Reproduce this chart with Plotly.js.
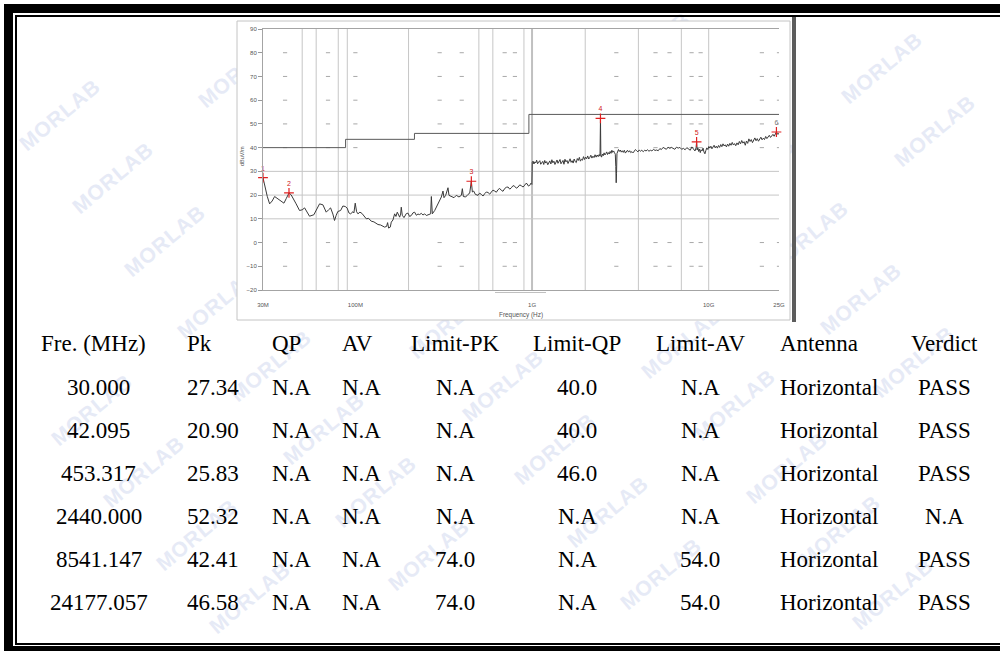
<!DOCTYPE html>
<html><head><meta charset="utf-8">
<script src="https://cdn.plot.ly/plotly-3.0.1.min.js"></script>
<style>
html,body{margin:0;padding:0;background:#fff;width:1000px;height:653px;overflow:hidden;}
#wm{position:absolute;left:0;top:0;width:1000px;height:653px;overflow:hidden;z-index:0;}
.w{position:absolute;font-family:'Liberation Sans',Arial,sans-serif;font-weight:bold;font-size:21px;color:#e6eaf6;transform:translate(-50%,-50%) rotate(-40deg);white-space:nowrap;letter-spacing:1px;}
#chart{position:absolute;left:0;top:0;width:1000px;height:653px;z-index:1;}
#frame1{position:absolute;left:4px;top:4px;width:1100px;height:633px;border-top:9px solid #000;border-left:9px solid #000;border-bottom:5px solid #000;z-index:2;pointer-events:none;}
#frame2{position:absolute;left:15px;top:15px;width:1100px;height:626px;border-top:2px solid #000;border-left:2px solid #000;border-bottom:2px solid #000;z-index:2;pointer-events:none;}
</style></head>
<body>
<div id="wm"></div>
<div id="chart"></div>
<div id="frame1"></div>
<div id="frame2"></div>
<script>
// ---------------- data ----------------
// measured trace, 30 MHz - 1 GHz
const lowFreq = [
30,30.6,31.7,32.7,33.8,34.9,36.1,37.2,39.4,40.6,42.095,43.3,44.7,46.2,48.3,50.0,51.6,53.4,55.0,58.2,
60.0,62.7,65.5,68.4,70.5,72.4,74.6,76.2,77.9,79.6,82.5,85.0,87.6,89.9,91.9,94.0,96.9,98.1,99.8,101.6,
103.4,106.1,108.9,111.8,115.3,118.8,123.0,127.4,131.3,134.2,138.9,143.2,146.4,150.2,152.2,154.2,157.6,159.7,163.2,166.8,
169.7,172.7,175.7,178.1,180.4,181.9,184.3,188.4,194.2,198.5,202.8,207.3,211.8,216.5,221.3,226.1,231.1,236.1,241.4,246.7,
252.1,260,266.8,269.2,272.7,281.2,287.3,293.6,300.0,306.6,313.3,317.4,324.4,334.4,338.8,349.3,361.6,372.7,385.9,398.0,
403.2,408.5,421.1,434.1,443.7,453.317,459.4,467.4,477.7,494.6,505,516.6,528,539.6,551,563.5,576,588.6,601,614.8,
628,642.1,656,670.7,685,700.6,716,731.6,748,764.1,781,798.1,815,833.6,852,870.7,890,909.4,923,937.4,
954,970.6,985,998
];
const lowDb = [
27.3,24.0,19.5,16.3,17.5,19.4,18.6,17.7,16.6,18.5,20.9,20.1,18.5,16.3,13.5,13.8,14.6,12.5,11.1,11.7,
13.5,16.3,15.9,12.8,13.8,14.6,12.0,9.3,11.5,13.1,13.5,15.4,15.2,14.5,12.5,12.1,13.0,12.5,16.6,13.0,
12.1,12.8,12.3,11.2,10.0,10.2,9.0,8.7,8.2,7.6,7.4,6.9,6.5,6.8,8.4,6.1,6.5,8.6,9.5,12.1,
11.0,12.8,11.2,10.7,12.0,14.9,11.5,10.5,12.2,12.4,11.0,11.4,12.5,12.8,11.5,12.0,11.8,12.3,11.6,12.1,
11.4,11.8,12.1,19.4,12.1,13.5,14.9,16.6,18.0,19.2,21.7,18.9,19.9,23.1,19.9,19.4,18.9,19.9,19.2,19.9,
22.7,19.4,19.2,20.3,20.8,25.83,21.3,21.7,20.3,19.9,20.8,20.3,19.6,20.6,21.3,21.1,20.4,21.3,22.1,21.7,
21.2,22.3,22.8,22.0,21.6,22.8,23.3,23.4,22.5,23.1,24.0,23.7,22.9,23.4,24.3,23.9,23.4,24.2,24.9,24.8,
23.8,24.1,25.0,24.5
];
// measured trace, 1 GHz - 25 GHz
const highFreq = [
1003,1014,1025,1038,1050,1062,1075,1090,1106,1120,
1135,1150,1165,1180,1195,1210,1228,1245,1260,1278,
1295,1312,1330,1348,1366,1385,1402,1420,1440,1458,
1477,1497,1516,1536,1556,1577,1598,1620,1642,1664,
1686,1709,1732,1756,1780,1804,1828,1853,1878,1904,
1930,1956,1983,2010,2038,2066,2094,2123,2152,2182,
2212,2243,2274,2305,2337,2369,2400,2425,2440,2452,
2475,2502,2530,2558,2587,2616,2645,2675,2705,2736,
2767,2799,2831,2863,2896,2930,2960,2980,2995,3008,
3025,3050,3085,3120,3160,3200,3240,3285,3330,3375,
3420,3470,3520,3570,3620,3675,3730,3790,3850,3910,
3975,4040,4110,4180,4260,4340,4420,4500,4590,4680,
4770,4870,4970,5070,5180,5290,5400,5520,5640,5760,
5890,6020,6150,6290,6430,6570,6720,6870,7030,7190,
7350,7520,7690,7860,8030,8200,8360,8480,8541.147,8600,
8680,8770,8870,8960,9060,9170,9290,9400,9520,9640,
9760,9890,10020,10150,10290,10430,10580,10730,10880,11040,
11200,11360,11530,11700,11870,12050,12230,12410,12600,12790,
12980,13180,13380,13590,13800,14010,14230,14450,14680,14910,
15140,15380,15620,15860,16110,16360,16620,16880,17150,17420,
17690,17970,18250,18540,18830,19130,19430,19740,20050,20370,
20690,21020,21350,21690,22030,22380,22740,23100,23470,23840,
24177.057,24600,25000
];
const highDb = [
33.9,34.3,33.1,34.0,33.6,34.7,33.2,33.9,34.5,33.0,
33.8,34.2,32.9,34.6,33.5,34.1,32.8,33.7,34.4,33.1,
34.9,33.6,34.3,32.9,33.8,34.8,33.4,34.1,35.0,33.2,
33.9,34.6,33.0,35.1,34.0,34.6,33.3,34.2,35.3,33.8,
34.5,33.5,35.2,34.1,33.7,35.4,34.6,35.9,34.3,35.1,
34.7,36.2,35.0,36.0,35.3,36.5,35.2,35.9,36.8,35.6,
36.4,35.8,37.0,36.0,36.9,36.2,37.1,36.4,52.32,36.9,
36.0,37.3,36.6,37.8,36.9,37.5,38.2,37.1,37.9,37.3,
38.4,37.6,38.9,38.0,38.6,37.9,37.2,32.0,25.2,29.0,
37.5,38.6,39.2,38.4,39.0,38.1,38.7,38.0,38.9,37.7,
38.4,38.9,38.1,38.7,37.9,38.3,37.8,38.6,39.2,38.7,
38.2,39.0,38.5,38.9,38.3,38.9,38.6,39.1,38.5,38.9,
38.6,39.3,38.8,39.0,38.7,39.6,39.2,40.1,39.8,39.3,
40.2,39.7,40.1,39.5,39.3,40.2,39.8,40.1,39.3,39.7,
39.1,40.0,39.4,38.9,40.3,39.6,38.6,39.9,42.41,39.0,
40.0,38.4,39.4,37.9,39.1,38.6,39.8,38.2,37.4,38.8,
39.9,39.2,40.5,39.8,40.6,39.5,40.3,41.0,39.9,40.6,
39.8,40.9,40.1,41.3,40.4,41.6,40.7,41.2,40.3,41.5,
40.6,41.8,41.0,42.2,41.1,41.7,40.8,42.0,41.2,42.6,
41.6,43.0,41.9,42.5,41.0,42.8,41.8,43.7,42.6,43.4,
42.1,43.3,44.1,42.9,43.8,42.7,43.5,44.4,43.3,44.0,
43.4,44.7,43.8,44.5,45.2,44.3,45.0,45.6,44.8,45.5,
46.58,45.6,46.0
];
const limitFreq = [30, 88, 88, 216, 216, 960, 960, 25000];
const limitDb = [40, 40, 43.5, 43.5, 46, 46, 54, 54];
const markerFreq = [30.000, 42.095, 453.317, 2440.000, 8541.147, 24177.057];
const markerPk = [27.34, 20.90, 25.83, 52.32, 42.41, 46.58];
const markerNo = ['1','2','3','4','5','6'];
const tickFreq = [30,40,50,60,70,80,90,100,200,300,400,500,600,700,800,900,1000,2000,3000,4000,5000,6000,7000,8000,9000,10000,20000,25000];
const labelFreq = [30,100,1000,10000,25000];
const labelText = ['30M','100M','1G','10G','25G'];
const gridFreq = [50,60,80,90,200,500,600,900,2000,4000,7000,10000];
const gridFreqBold = [1000];
const gridDb = [10,20,30];
const dotFreq = [40,70,100,300,400,700,800,3000,5000,6000,8000,9000,20000,25000];
const dotDb = [80,70,60,50,40,0,-10];
const yTicks = [90,80,70,60,50,40,30,20,10,0,-10,-20];

// table
const colHeaders = ['Fre. (MHz)','Pk','QP','AV','Limit-PK','Limit-QP','Limit-AV','Antenna','Verdict'];
const freCol = ['30.000','42.095','453.317','2440.000','8541.147','24177.057'];
const pkCol = ['27.34','20.90','25.83','52.32','42.41','46.58'];
const qpCol = ['N.A','N.A','N.A','N.A','N.A','N.A'];
const avCol = ['N.A','N.A','N.A','N.A','N.A','N.A'];
const limPkCol = ['N.A','N.A','N.A','N.A','74.0','74.0'];
const limQpCol = ['40.0','40.0','46.0','N.A','N.A','N.A'];
const limAvCol = ['N.A','N.A','N.A','N.A','54.0','54.0'];
const antCol = ['Horizontal','Horizontal','Horizontal','Horizontal','Horizontal','Horizontal'];
const verdictCol = ['PASS','PASS','PASS','N.A','PASS','PASS'];

// ---------------- layout helpers ----------------
const W = 1000, H = 653, L = 263, R = 221, T = 29, B = 363;
const PW = W - L - R, PH = H - T - B;
const xp = px => (px - L) / PW;
const yp = py => 1 - (py - T) / PH;

// watermarks (tiled along the text direction, only whole words kept)
const wm = document.getElementById('wm');
const ang = 40 * Math.PI / 180;
const ax = [165 * Math.cos(ang), -165 * Math.sin(ang)];
const bx = [82 * Math.sin(ang), 82 * Math.cos(ang)];
for (let i = -10; i <= 10; i++) {
  for (let j = -4; j <= 18; j++) {
    const cx = 60 + i * ax[0] + j * bx[0];
    const cy = 115 + i * ax[1] + j * bx[1];
    if (cx < 46 || cx > 954 || cy < 42 || cy > 608) continue;
    const d = document.createElement('div');
    d.className = 'w'; d.textContent = 'MORLAB';
    d.style.left = cx.toFixed(1) + 'px'; d.style.top = cy.toFixed(1) + 'px';
    wm.appendChild(d);
  }
}

// grid traces
function vLines(arr) { const x = [], y = []; arr.forEach(f => { x.push(f, f, null); y.push(-20, 90, null); }); return {x, y}; }
function hLines(arr) { const x = [], y = []; arr.forEach(g => { x.push(30, 25000, null); y.push(g, g, null); }); return {x, y}; }
const vg = vLines(gridFreq), vgb = vLines(gridFreqBold), hg = hLines(gridDb);
const dx = [], dy = [];
dotFreq.forEach(f => dotDb.forEach(g => { dx.push(f); dy.push(g); }));

const traces = [
  {x: vg.x, y: vg.y, mode: 'lines', line: {color: '#c6c6c6', width: 1}, hoverinfo: 'skip', showlegend: false},
  {x: vgb.x, y: vgb.y, mode: 'lines', line: {color: '#c0c0c0', width: 2}, hoverinfo: 'skip', showlegend: false},
  {x: hg.x, y: hg.y, mode: 'lines', line: {color: '#c6c6c6', width: 1}, hoverinfo: 'skip', showlegend: false},
  {x: dx, y: dy, mode: 'markers', marker: {symbol: 'line-ew', size: 3, line: {color: '#a8a8a8', width: 1}}, hoverinfo: 'skip', showlegend: false},
  {x: tickFreq, y: tickFreq.map(() => -23.4), mode: 'markers', cliponaxis: false, marker: {symbol: 'square', size: 1.5, color: '#8a8a8a'}, hoverinfo: 'skip', showlegend: false},
  {x: limitFreq, y: limitDb, mode: 'lines', line: {color: '#5a5a5a', width: 1}, showlegend: false},
  {x: lowFreq.concat(highFreq), y: lowDb.concat(highDb), mode: 'lines', line: {color: '#3a3a3a', width: 1}, showlegend: false},
  {x: markerFreq, y: markerPk, mode: 'markers+text', text: markerNo, textposition: 'top center', cliponaxis: false,
   textfont: {family: 'Liberation Sans, Arial', size: 7, color: ['#d02020','#d02020','#d02020','#d02020','#d02020','#777777']},
   marker: {symbol: 'cross-thin', size: 7, line: {color: '#e02020', width: 1.2}}, showlegend: false}
];

// annotations
const ann = [];
ann.push({xref: 'paper', yref: 'paper', x: xp(521), y: yp(315), text: 'Frequency (Hz)', showarrow: false,
  font: {family: 'Liberation Sans, Arial', size: 6.4, color: '#555'}, xanchor: 'center', yanchor: 'middle'});
ann.push({xref: 'paper', yref: 'paper', x: xp(242), y: yp(156), text: 'dBuV/m', textangle: -90, showarrow: false,
  font: {family: 'Liberation Sans, Arial', size: 5.5, color: '#555'}, xanchor: 'center', yanchor: 'middle'});

const colX = [98.5, 185, 270, 340, 455, 577, 700, 778, 944];
const colAnchor = ['center','left','left','left','center','center','center','left','center'];
const cols = [freCol, pkCol, qpCol, avCol, limPkCol, limQpCol, limAvCol, antCol, verdictCol];
const tfont = {family: 'Liberation Serif, Times New Roman, serif', size: 23, color: '#000'};
const headerY = 343, rowY0 = 387, rowDY = 43.1;
colHeaders.forEach((h, i) => {
  ann.push({xref: 'paper', yref: 'paper', x: xp(i === 0 ? 93.7 : colX[i]), y: yp(headerY), text: h, showarrow: false,
    font: tfont, xanchor: colAnchor[i], yanchor: 'middle'});
});
cols.forEach((c, i) => c.forEach((v, r) => {
  ann.push({xref: 'paper', yref: 'paper', x: xp(colX[i]), y: yp(rowY0 + r * rowDY), text: v, showarrow: false,
    font: tfont, xanchor: colAnchor[i], yanchor: 'middle'});
}));

const shapes = [
  {type: 'rect', xref: 'paper', yref: 'paper', x0: xp(237), x1: xp(790), y0: yp(320), y1: yp(21),
   fillcolor: '#ffffff', line: {color: '#c4c4c4', width: 1}, layer: 'below'},
  {type: 'rect', xref: 'paper', yref: 'paper', x0: xp(792), x1: xp(796), y0: yp(322), y1: yp(17),
   fillcolor: '#5c5c5c', line: {width: 0}, layer: 'below'},
  {type: 'line', xref: 'paper', yref: 'paper', x0: xp(495), x1: xp(546), y0: yp(292.5), y1: yp(292.5),
   line: {color: '#c0c0c0', width: 1}}
];

const layout = {
  width: W, height: H,
  margin: {l: L, r: R, t: T, b: B, pad: 0},
  paper_bgcolor: 'rgba(0,0,0,0)', plot_bgcolor: '#ffffff',
  font: {family: 'Liberation Sans, Arial, sans-serif', size: 6, color: '#555'},
  showlegend: false,
  xaxis: {type: 'log', range: [Math.log10(30), Math.log10(25000)], tickvals: labelFreq, ticktext: labelText,
    ticks: '', showgrid: false, zeroline: false, showline: true, mirror: true, linecolor: '#a4a4a4', linewidth: 1,
    tickfont: {size: 6, color: '#555'}, ticklabelstandoff: 9, automargin: false, fixedrange: true},
  yaxis: {range: [-20, 90], tickvals: yTicks, ticks: 'outside', ticklen: 4, tickcolor: '#999', tickwidth: 1,
    showgrid: false, zeroline: false, showline: true, linecolor: '#a4a4a4', linewidth: 1,
    tickfont: {size: 6, color: '#555'}, automargin: false, fixedrange: true},
  annotations: ann,
  shapes: shapes
};

Plotly.newPlot('chart', traces, layout, {staticPlot: true, displayModeBar: false});
</script>
</body></html>
